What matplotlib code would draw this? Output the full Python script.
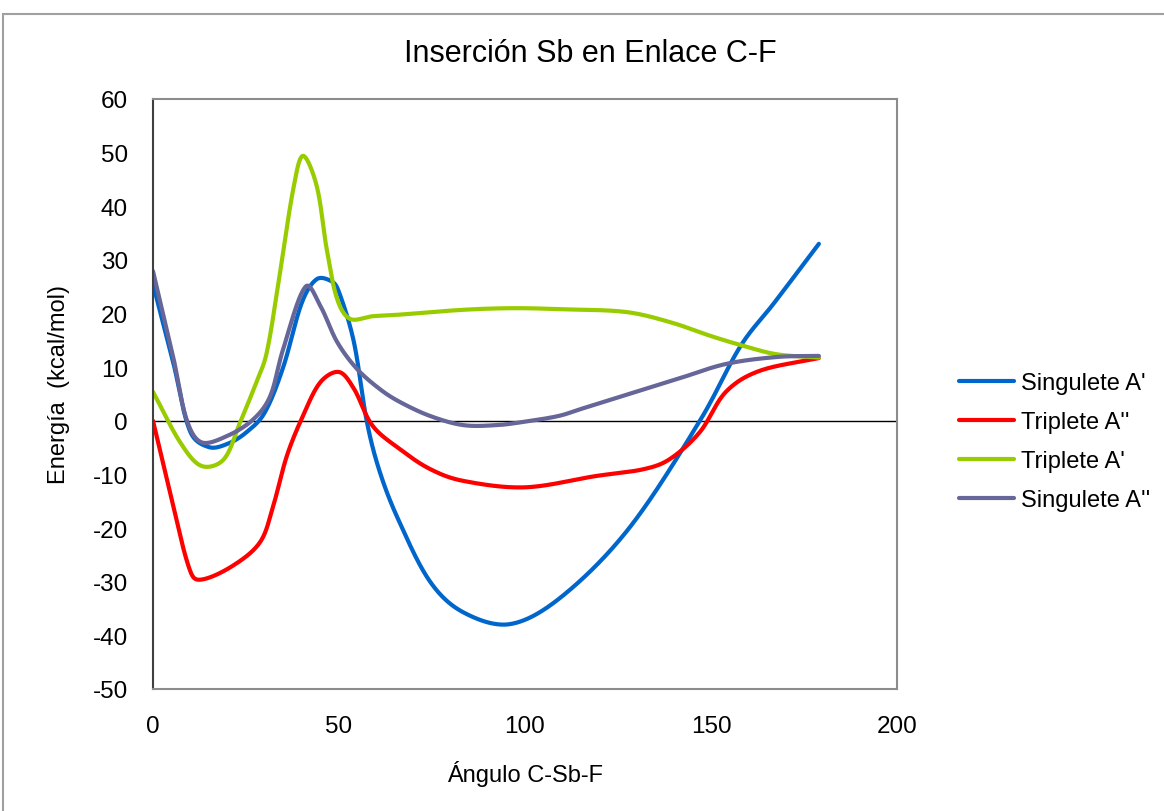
import matplotlib
matplotlib.use("Agg")
import matplotlib.pyplot as plt
from matplotlib.patches import Rectangle
import numpy as np

plt.rcParams["font.family"] = ["Liberation Sans", "DejaVu Sans"]
plt.rcParams["axes.unicode_minus"] = False

# values (angle in degrees, energy in kcal/mol)
sing_a1_x = [0, 5.4, 10, 15, 20, 25, 30, 35, 40, 44, 48, 50, 54, 57.5, 61, 66, 74.5, 83.4, 96, 110, 128, 147, 158, 167, 179]
sing_a1_y = [25.5, 11, -2, -4.9, -4.3, -2.2, 1.5, 10, 22, 26.4, 26, 24, 14.7, -0.2, -9.6, -18.5, -30, -35.7, -37.9, -32.7, -20, 0, 14, 22, 33]

trip_a2_x = [0, 5, 10, 13, 21.5, 28.8, 32.3, 36, 40.3, 45, 50, 54, 59, 66.4, 74.5, 83.4, 100, 119, 132, 139, 147, 154, 163, 179]
trip_a2_y = [0, -14.6, -28, -29.6, -27, -22.6, -15.9, -6.5, 0.9, 7.2, 9.1, 6, -0.9, -5.3, -9, -11.2, -12.4, -10.3, -9, -7.1, -2.1, 5.4, 9.3, 11.7]

trip_a1_x = [0, 7.3, 13, 19, 23.4, 27.8, 30.6, 34, 37.7, 40.3, 44, 46.7, 49.5, 53, 59, 66.4, 83.4, 97, 110, 127, 139, 150, 158.6, 167.7, 179]
trip_a1_y = [5.4, -4, -8.4, -7.2, -0.3, 7.2, 12.8, 27, 43.2, 49.4, 43.8, 32, 22.7, 19, 19.5, 19.8, 20.7, 21, 20.8, 20.3, 18.4, 15.8, 14, 12.4, 11.8]

sing_a2_x = [0, 5.4, 9, 13, 20, 27, 31.5, 35, 41, 45, 49.5, 54.8, 61, 66.4, 74.5, 83.4, 92.4, 99.6, 109, 115, 128, 141, 154, 167.7, 179]
sing_a2_y = [27.9, 12, 0.3, -4, -2.8, 0.3, 4.6, 13.4, 25, 21.4, 14.7, 9.7, 5.9, 3.5, 0.9, -0.8, -0.8, -0.2, 0.9, 2.2, 5, 7.8, 10.6, 11.9, 12.1]

series_names = ["Singulete A'", "Triplete A''", "Triplete A'", "Singulete A''"]
series_colors = ["#0066CC", "#FF0000", "#99CC00", "#666699"]

# rough pixels per data unit, so the smoothing works in screen space
SX, SY = 3.72, 5.364


def smooth(xs, ys, n=40):
    # centripetal catmull-rom through the read points (rounded like excel)
    p = np.column_stack([np.asarray(xs, float) * SX, np.asarray(ys, float) * SY])
    d = np.sqrt(np.linalg.norm(np.diff(p, axis=0), axis=1))
    t = np.concatenate([[0], np.cumsum(d)])
    m = np.empty_like(p)
    m[1:-1] = (p[2:] - p[:-2]) / (t[2:] - t[:-2])[:, None]
    m[0] = (p[1] - p[0]) / (t[1] - t[0])
    m[-1] = (p[-1] - p[-2]) / (t[-1] - t[-2])
    out = [p[:1]]
    s = np.linspace(0, 1, n)[1:, None]
    h00 = 2 * s**3 - 3 * s**2 + 1
    h10 = s**3 - 2 * s**2 + s
    h01 = -2 * s**3 + 3 * s**2
    h11 = s**3 - s**2
    for i in range(len(p) - 1):
        h = t[i + 1] - t[i]
        out.append(h00 * p[i] + h10 * h * m[i] + h01 * p[i + 1] + h11 * h * m[i + 1])
    out = np.vstack(out)
    return out[:, 0] / SX, out[:, 1] / SY


fig = plt.figure(figsize=(11.64, 8.12), dpi=100)
W, H = 1164, 812
ax = fig.add_axes([153 / W, 1 - 690 / H, 744 / W, 590 / H])

fig.patches.append(
    Rectangle((3 / W, -0.1), 2, 1.1 - 15 / H, transform=fig.transFigure,
              fill=False, edgecolor="#A0A0A0", linewidth=1.5)
)

data = [
    (sing_a1_x, sing_a1_y),
    (trip_a2_x, trip_a2_y),
    (trip_a1_x, trip_a1_y),
    (sing_a2_x, sing_a2_y),
]

ax.axhline(0, color="black", linewidth=1.0, zorder=1)

handles = []
for (xs, ys), name, col in zip(data, series_names, series_colors):
    sx, sy = smooth(xs, ys)
    (ln,) = ax.plot(sx, sy, color=col, linewidth=3.0, label=name,
                    solid_capstyle="round", zorder=2)
    handles.append(ln)

ax.set_xlim(0, 200)
ax.set_ylim(-50, 60)
ax.set_xticks(np.arange(0, 201, 50))
ax.set_yticks(np.arange(-50, 61, 10))
ax.tick_params(axis="both", length=0, labelsize=17.5, colors="black")
ax.tick_params(axis="y", pad=18)
ax.tick_params(axis="x", pad=19)

for side in ["top", "right", "bottom"]:
    ax.spines[side].set_color("#8C8C8C")
    ax.spines[side].set_linewidth(1.5)
ax.spines["left"].set_color("#404040")
ax.spines["left"].set_linewidth(1.5)

fig.text(590 / W, 1 - 62 / H, "Inserción Sb en Enlace C-F", fontsize=22,
         ha="center", va="baseline")
fig.text(525 / W, 1 - 782 / H, "Ángulo C-Sb-F", fontsize=17,
         ha="center", va="baseline")
fig.text(65 / W, 1 - 385 / H, "Energía  (kcal/mol)", fontsize=17,
         ha="center", va="baseline", rotation=90, rotation_mode="anchor")

leg = fig.legend(handles=handles, loc="upper left",
                 bbox_to_anchor=(950 / W, 1 - 364 / H),
                 frameon=False, fontsize=17, handlelength=2.3,
                 handletextpad=0.3, labelspacing=0.72, borderaxespad=0)

fig.savefig("out.png", dpi=100)
